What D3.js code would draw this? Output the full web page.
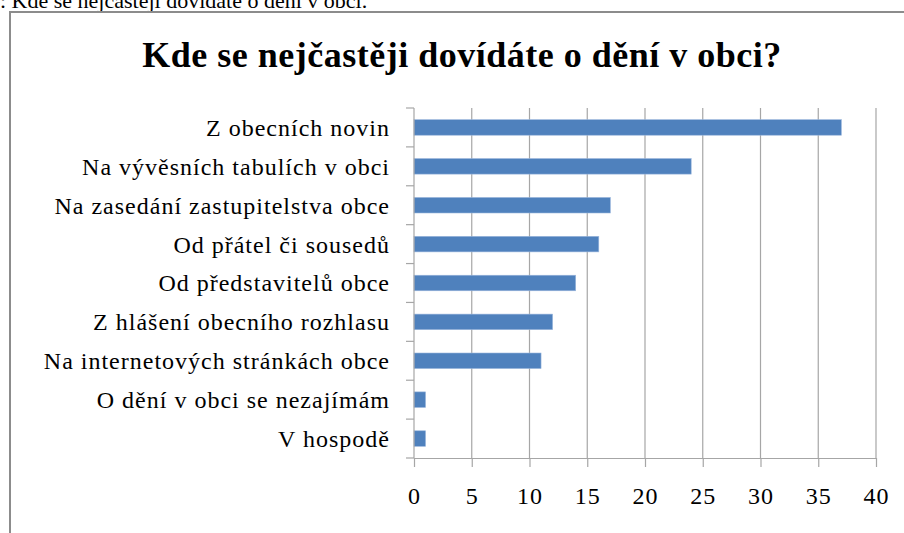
<!DOCTYPE html>
<html>
<head>
<meta charset="utf-8">
<script src="https://cdn.jsdelivr.net/npm/d3@7"></script>
<style>
  body { margin: 0; background: #fff; }
  svg text { font-family: "Liberation Serif", "Times New Roman", serif !important; fill: #000; }
</style>
</head>
<body>
<svg id="chart" width="904" height="533"></svg>
<script>
const categories = [
  "Z obecních novin",
  "Na vývěsních tabulích v obci",
  "Na zasedání zastupitelstva obce",
  "Od přátel či sousedů",
  "Od představitelů obce",
  "Z hlášení obecního rozhlasu",
  "Na internetových stránkách obce",
  "O dění v obci se nezajímám",
  "V hospodě"
];
const values = [37, 24, 17, 16, 14, 12, 11, 1, 1];
const xTicks = [0, 5, 10, 15, 20, 25, 30, 35, 40];
const title = "Kde se nejčastěji dovídáte o dění v obci?";
const caption = ": Kde se nejčastěji dovídáte o dění v obci.";

const svg = d3.select("#chart");
const plot = { left: 414, right: 876, top: 108, bottom: 458 };

// caption of the document, cut off at the top
svg.append("text")
    .attr("x", 0)
    .attr("y", 8)
    .style("font-size", "22px")
    .text(caption);

// chart frame
svg.append("rect")
    .attr("x", 10)
    .attr("y", 12)
    .attr("width", 904)
    .attr("height", 530)
    .attr("fill", "none")
    .attr("stroke", "#8c8c8c")
    .attr("stroke-width", 2);

svg.append("text")
    .attr("x", 462)
    .attr("y", 67)
    .attr("text-anchor", "middle")
    .style("font-size", "36px")
    .style("font-weight", "bold")
    .style("letter-spacing", "0.5px")
    .text(title);

const x = d3.scaleLinear().domain([0, 40]).range([plot.left, plot.right]);
const y = d3.scaleBand().domain(categories).range([plot.top, plot.bottom]).paddingInner(0.6).paddingOuter(0.3);

// vertical grid
svg.append("g")
    .selectAll("line")
    .data(xTicks.slice(1))
    .join("line")
    .attr("x1", d => x(d))
    .attr("x2", d => x(d))
    .attr("y1", plot.top)
    .attr("y2", plot.bottom)
    .attr("stroke", "#a6a6a6")
    .attr("stroke-width", 1.2);

// bars
svg.append("g")
    .selectAll("rect")
    .data(values)
    .join("rect")
    .attr("x", x(0))
    .attr("y", (d, i) => y(categories[i]))
    .attr("width", d => x(d) - x(0))
    .attr("height", y.bandwidth())
    .attr("fill", "#4f81bd")
    .attr("stroke", "#9bb7dd")
    .attr("stroke-width", 0.6);

// x axis
const xAxis = svg.append("g")
    .attr("transform", "translate(0," + plot.bottom + ")")
    .call(d3.axisBottom(x).tickValues(xTicks).tickSize(9).tickPadding(20).tickSizeOuter(0));
xAxis.select(".domain").attr("stroke", "#a6a6a6").attr("stroke-width", 1.2);
xAxis.selectAll(".tick line").attr("stroke", "#a6a6a6").attr("stroke-width", 1.2);
xAxis.selectAll("text").style("font-size", "24px").style("letter-spacing", "1px");

// y axis: category ticks between bands
const yLine = svg.append("g");
yLine.append("line")
    .attr("x1", plot.left).attr("x2", plot.left)
    .attr("y1", plot.top).attr("y2", plot.bottom)
    .attr("stroke", "#a6a6a6").attr("stroke-width", 1.2);
yLine.selectAll("line.cat")
    .data(d3.range(categories.length + 1))
    .join("line")
    .attr("class", "cat")
    .attr("x1", plot.left - 8).attr("x2", plot.left)
    .attr("y1", i => plot.top + i * (plot.bottom - plot.top) / categories.length)
    .attr("y2", i => plot.top + i * (plot.bottom - plot.top) / categories.length)
    .attr("stroke", "#a6a6a6").attr("stroke-width", 1.2);

svg.append("g")
    .selectAll("text")
    .data(categories)
    .join("text")
    .attr("x", 390)
    .attr("y", d => y(d) + y.bandwidth() / 2)
    .attr("dy", "0.35em")
    .attr("text-anchor", "end")
    .style("font-size", "24px")
    .style("letter-spacing", "1px")
    .text(d => d);
</script>
</body>
</html>
